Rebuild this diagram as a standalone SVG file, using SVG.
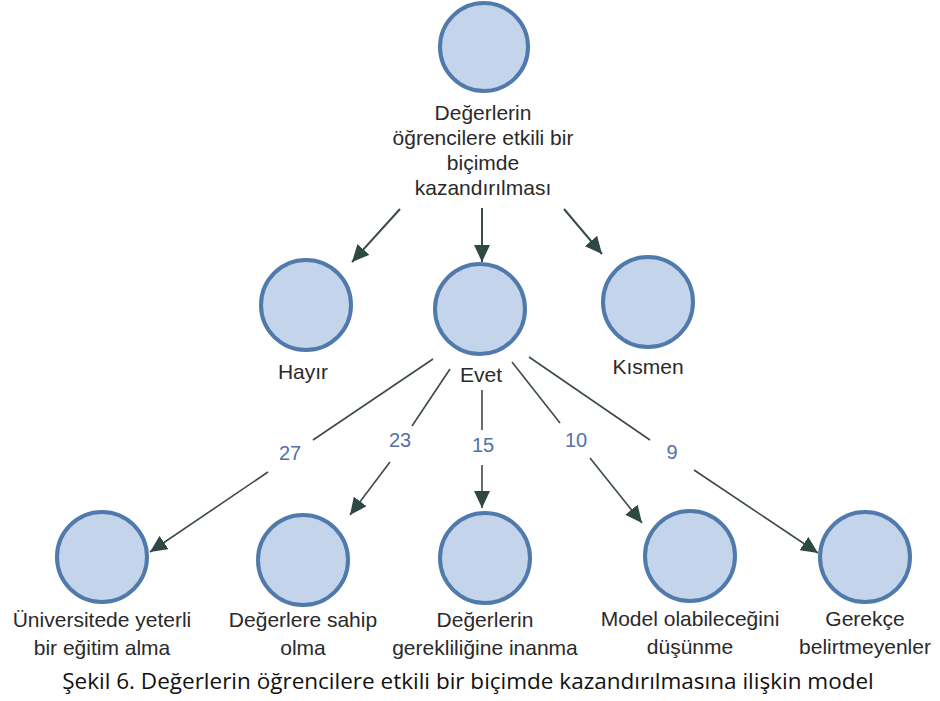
<svg xmlns="http://www.w3.org/2000/svg" width="940" height="701" viewBox="0 0 940 701">
<defs>
<marker id="ah" markerUnits="userSpaceOnUse" markerWidth="18" markerHeight="16" refX="17" refY="8" orient="auto">
<path d="M0,0 L17,8 L0,16 z" fill="#2e4844"/>
</marker>
<style>
.n{fill:#c4d4ea;stroke:#4f7aab;stroke-width:4}
.t{font-family:"Liberation Sans",Arial,sans-serif;font-size:21px;fill:#2a2a2a;text-anchor:middle}
.e{stroke:#3c4a48;stroke-width:1.6;fill:none}
.e2{stroke:#3c4a48;stroke-width:2;fill:none}
.l{font-family:"Liberation Sans",Arial,sans-serif;font-size:20px;fill:#5470a8;text-anchor:middle}
.cap{font-family:"Open Sans","Noto Sans",sans-serif;font-size:22.5px;fill:#111;text-anchor:middle}
</style>
</defs>
<rect width="940" height="701" fill="#fff"/>
<g id="connectors">
<line class="e2" x1="400" y1="209" x2="352" y2="262" marker-end="url(#ah)"/>
<line class="e2" x1="482" y1="208" x2="482" y2="262" marker-end="url(#ah)"/>
<line class="e2" x1="564" y1="209" x2="602" y2="254" marker-end="url(#ah)"/>
<line class="e" x1="433" y1="359" x2="313" y2="440"/>
<line class="e" x1="268" y1="472" x2="150" y2="552" marker-end="url(#ah)"/>
<line class="e" x1="450" y1="369" x2="412" y2="426"/>
<line class="e" x1="390" y1="462" x2="350" y2="515" marker-end="url(#ah)"/>
<line class="e" x1="482" y1="390" x2="482" y2="430"/>
<line class="e" x1="482" y1="465" x2="482" y2="508" marker-end="url(#ah)"/>
<line class="e" x1="512" y1="362" x2="560" y2="423"/>
<line class="e" x1="590" y1="458" x2="642" y2="523" marker-end="url(#ah)"/>
<line class="e" x1="529" y1="357" x2="650" y2="440"/>
<line class="e" x1="694" y1="470" x2="818" y2="553" marker-end="url(#ah)"/>
<text class="l" x="290" y="460">27</text>
<text class="l" x="400" y="447">23</text>
<text class="l" x="483" y="452">15</text>
<text class="l" x="576" y="447">10</text>
<text class="l" x="672" y="459">9</text>
</g>
<g id="root">
<circle class="n" cx="484" cy="47" r="44"/>
<text class="t" x="483" y="120">Değerlerin</text>
<text class="t" x="483" y="145">öğrencilere etkili bir</text>
<text class="t" x="483" y="170">biçimde</text>
<text class="t" x="483" y="195">kazandırılması</text>
</g>
<g id="hayir">
<circle class="n" cx="306" cy="305" r="45"/>
<text class="t" x="303" y="379">Hayır</text>
</g>
<g id="evet">
<circle class="n" cx="480" cy="309" r="45"/>
<text class="t" x="481" y="382">Evet</text>
</g>
<g id="kismen">
<circle class="n" cx="648" cy="302" r="45"/>
<text class="t" x="648" y="374">Kısmen</text>
</g>
<g id="n1">
<circle class="n" cx="102" cy="557" r="45"/>
<text class="t" x="102" y="627">Üniversitede yeterli</text>
<text class="t" x="102" y="655">bir eğitim alma</text>
</g>
<g id="n2">
<circle class="n" cx="303" cy="560" r="45"/>
<text class="t" x="303" y="627">Değerlere sahip</text>
<text class="t" x="303" y="655">olma</text>
</g>
<g id="n3">
<circle class="n" cx="485" cy="558" r="45"/>
<text class="t" x="485" y="627">Değerlerin</text>
<text class="t" x="485" y="655">gerekliliğine inanma</text>
</g>
<g id="n4">
<circle class="n" cx="690" cy="556" r="45"/>
<text class="t" x="690" y="626">Model olabileceğini</text>
<text class="t" x="690" y="654">düşünme</text>
</g>
<g id="n5">
<circle class="n" cx="865" cy="557" r="45"/>
<text class="t" x="865" y="626">Gerekçe</text>
<text class="t" x="865" y="654">belirtmeyenler</text>
</g>
<text class="cap" x="468" y="689">Şekil 6. Değerlerin öğrencilere etkili bir biçimde kazandırılmasına ilişkin model</text>
</svg>
